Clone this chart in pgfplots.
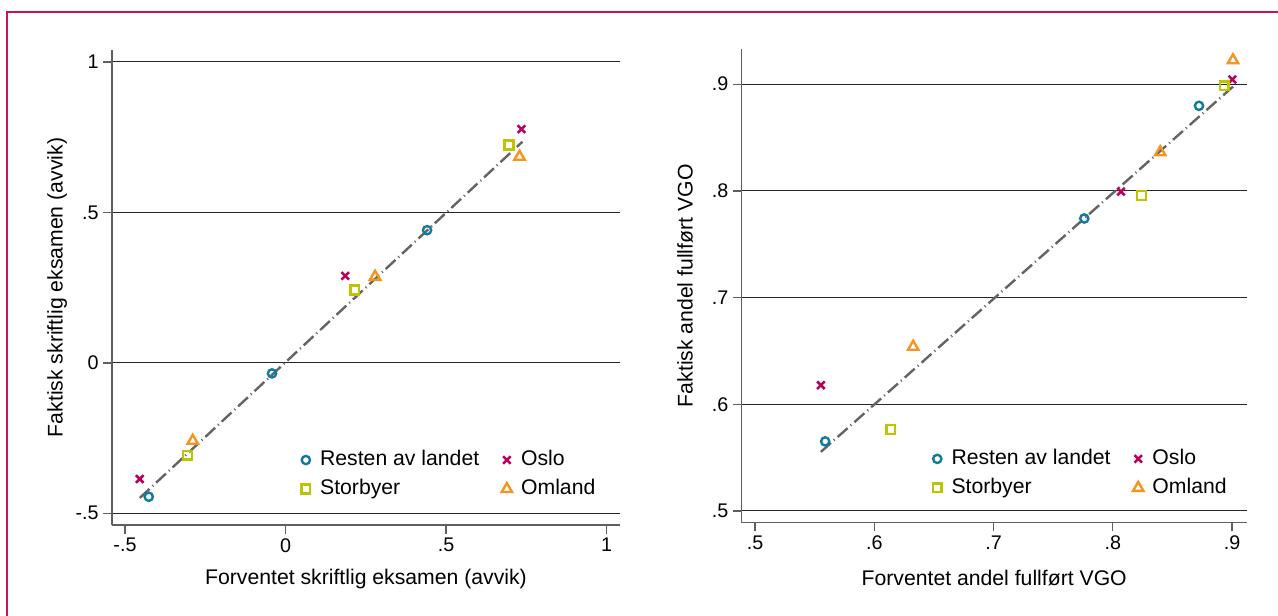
\documentclass[border=0pt]{standalone}
\usepackage{fontspec}
\setmainfont{Liberation Sans}
\usepackage{pgfplots}
\pgfplotsset{compat=1.18}
\definecolor{cteal}{RGB}{16,123,160}
\definecolor{cmag}{RGB}{184,0,92}
\definecolor{clime}{RGB}{190,196,0}
\definecolor{corange}{RGB}{245,148,30}
\definecolor{cframe}{RGB}{200,16,100}
\definecolor{cspine}{RGB}{95,95,95}
\definecolor{cfit}{RGB}{100,100,100}
\pgfplotsset{
  stataaxis/.style={
    scale only axis,
    axis lines=left,
    axis line style={-, cspine, line width=1pt},
    tick style={cspine, line width=1pt},
    tick align=outside,
    major tick length=6.5pt,
    ymajorgrids,
    major grid style={black!85, line width=0.75pt},
    tick label style={font=\fontsize{14.8}{16}\selectfont},
    label style={font=\fontsize{15.9}{18}\selectfont},
    clip=false,
    legend columns=2,
    legend cell align=left,
    legend style={draw=none, fill=none, inner sep=0pt, outer sep=0pt,
      font=\fontsize{15.9}{18}\selectfont,
      nodes={inner sep=2pt, text height=11pt, text depth=3pt},
      row sep=3.75pt,
      /tikz/every even column/.append style={column sep=13.5pt}},
    legend image code/.code={\path (-5pt,0pt) (8.5pt,0pt); \draw[##1] plot coordinates {(0pt,0pt)};},
  },
  sresten/.style={only marks, mark=o, cteal, mark size=3.1pt, mark options={line width=1.8pt, solid}},
  soslo/.style={only marks, mark=x, cmag, mark size=4pt, mark options={line width=1.9pt, solid}},
  sstor/.style={only marks, mark=square, clime, mark size=3.3pt, mark options={line width=1.8pt, solid}},
  somland/.style={only marks, mark=triangle, corange, mark size=4.5pt, mark options={line width=1.8pt, solid}},
  sfit/.style={no marks, cfit, line width=1.8pt, dash pattern=on 10pt off 3pt on 0.8pt off 3pt},
}
\begin{document}
\begin{tikzpicture}[x=0.75pt,y=0.75pt]
\useasboundingbox (0,0) rectangle (1278,616);
\draw[cframe, line width=1.3pt] (7.3,-20) -- (7.3,604.3) -- (1300,604.3);

% Left panel
\begin{axis}[stataaxis,
  at={(84pt,68.25pt)}, anchor=south west,
  width=381pt, height=356.25pt,
  xmin=-0.5405, xmax=1.042, ymin=-0.5389, ymax=1.0399,
  xtick={-0.5,0,0.5,1}, xticklabels={-.5,0,.5,1},
  ytick={-0.5,0,0.5,1}, yticklabels={-.5,0,.5,1},
  xlabel={Forventet skriftlig eksamen (avvik)},
  ylabel={Faktisk skriftlig eksamen (avvik)},
  xlabel style={at={(axis description cs:0.5,-0.1137)}, anchor=center},
  ylabel style={at={(axis description cs:-0.108,0.5)}, anchor=center},
  legend style={at={(axis description cs:0.368,0.162)}, anchor=north west},
]
\addplot[sfit, forget plot] coordinates {(-0.454,-0.449) (0.738,0.735)};
\addplot[sresten] coordinates {(0.441,0.441) (-0.042,-0.035) (-0.426,-0.445)};
\addplot[soslo] coordinates {(0.735,0.777) (0.186,0.289) (-0.454,-0.386)};
\addplot[sstor] coordinates {(0.696,0.724) (0.216,0.242) (-0.305,-0.307)};
\addplot[somland] coordinates {(0.729,0.685) (0.279,0.286) (-0.289,-0.259)};
\legend{Resten av landet, Oslo, Storbyer, Omland}
\end{axis}

% Right panel
\begin{axis}[stataaxis,
  at={(556.275pt,69.975pt)}, anchor=south west,
  width=378.75pt, height=355.3pt,
  xmin=0.4888, xmax=0.9123, ymin=0.489, ymax=0.933,
  xtick={0.5,0.6,0.7,0.8,0.9}, xticklabels={.5,.6,.7,.8,.9},
  ytick={0.5,0.6,0.7,0.8,0.9}, yticklabels={.5,.6,.7,.8,.9},
  xlabel={Forventet andel fullført VGO},
  ylabel={Faktisk andel fullført VGO},
  xlabel style={at={(axis description cs:0.5,-0.1167)}, anchor=center},
  ylabel style={at={(axis description cs:-0.112,0.5)}, anchor=center},
  legend style={at={(axis description cs:0.3735,0.160)}, anchor=north west},
]
\addplot[sfit, forget plot] coordinates {(0.5552,0.5554) (0.9008,0.8977)};
\addplot[sresten] coordinates {(0.8723,0.8797) (0.7761,0.7741) (0.5588,0.5652)};
\addplot[soslo] coordinates {(0.9003,0.9044) (0.8069,0.7993) (0.5552,0.6179)};
\addplot[sstor] coordinates {(0.8935,0.8984) (0.8242,0.7956) (0.6139,0.5762)};
\addplot[somland] coordinates {(0.9008,0.9224) (0.8398,0.8362) (0.6326,0.6539)};
\legend{Resten av landet, Oslo, Storbyer, Omland}
\end{axis}
\end{tikzpicture}
\end{document}
